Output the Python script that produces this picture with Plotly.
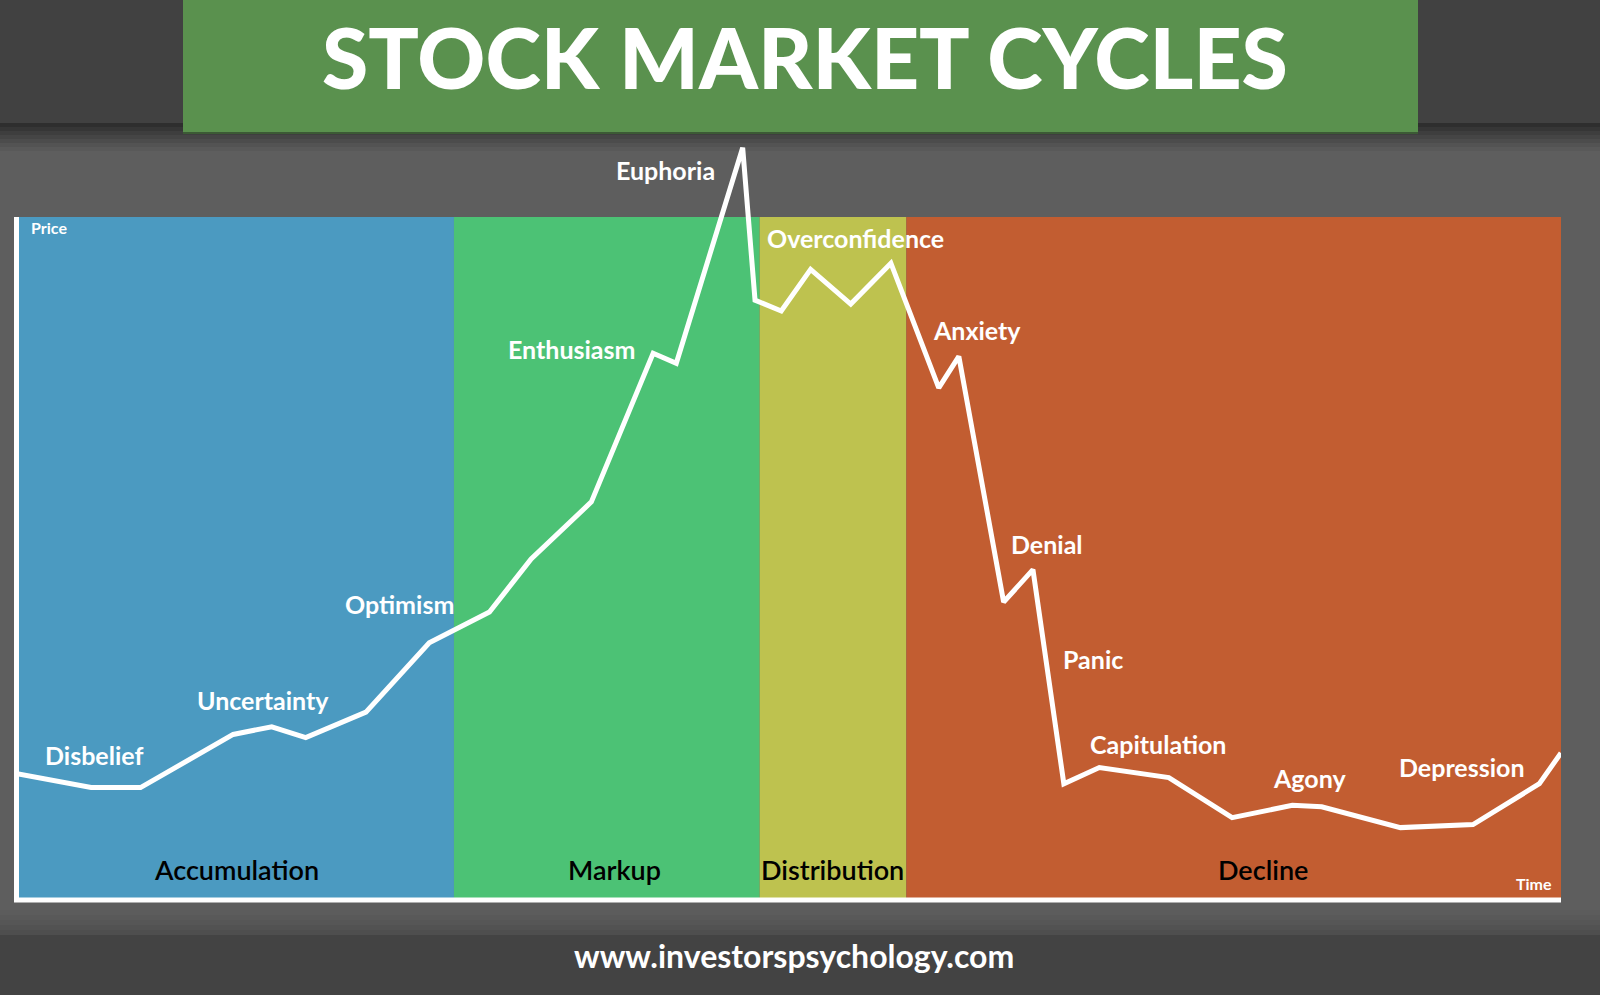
import plotly.graph_objects as go

W, H = 1600, 995

# price path through the cycle (time 0-100, price 0-100)
time = [0, 4.8, 8.0, 14.0, 16.5, 18.7, 22.6, 26.7, 30.6, 33.3, 37.2, 41.2, 42.7,
        47.0, 47.8, 49.5, 51.4, 54.0, 56.6, 59.7, 61.0, 63.9, 65.8, 67.8, 70.1,
        74.6, 78.7, 82.6, 84.5, 89.6, 94.3, 98.6, 100]
price = [16.4, 14.6, 14.6, 21.5, 22.5, 21.1, 24.4, 33.4, 37.4, 44.3, 51.7, 71.0, 69.7,
         97.7, 77.9, 76.5, 81.9, 77.4, 82.7, 66.5, 70.6, 38.7, 42.9, 15.1, 17.2,
         15.9, 10.7, 12.3, 12.1, 9.4, 9.8, 15.1, 19.1]

# market phases
phases = ["Accumulation", "Markup", "Distribution", "Decline"]
phase_start = [0, 28.3, 48.1, 57.6]
phase_end = [28.3, 48.1, 57.6, 100]
phase_colors = ["#4b9ac1", "#4cc275", "#bec24f", "#c25d31"]
phase_label_x = [14.2, 38.7, 52.8, 80.7]
phase_top = 88.7

# investor emotions
emotions = ["Disbelief", "Uncertainty", "Optimism", "Enthusiasm", "Euphoria",
            "Overconfidence", "Anxiety", "Denial", "Panic", "Capitulation",
            "Agony", "Depression"]
emotion_x = [5.0, 15.9, 24.8, 35.9, 42.0, 54.3, 62.2, 66.7, 69.7, 73.9, 83.7, 93.6]
emotion_y = [18.8, 26.0, 38.4, 71.6, 94.8, 86.0, 74.0, 46.2, 31.3, 20.3, 15.8, 17.3]

FONT = "Lato"


def px(x):
    return x / W


def py(y):
    return 1 - y / H


fig = go.Figure()

fig.add_trace(
    go.Scatter(
        x=time,
        y=price,
        mode="lines",
        line=dict(color="white", width=5),
        hoverinfo="skip",
        cliponaxis=False,
    )
)

shapes = []

# background bands: header, shadow, footer
shapes.append(dict(type="rect", xref="paper", yref="paper", x0=0, x1=1,
                   y0=py(123), y1=1, fillcolor="#414141", line_width=0, layer="below"))
shade = ["#2e2e2e", "#363636", "#3e3e3e", "#454545", "#4c4c4c", "#535353", "#595959"]
for i, c in enumerate(shade):
    shapes.append(dict(type="rect", xref="paper", yref="paper", x0=0, x1=1,
                       y0=py(123 + 4 * (i + 1)), y1=py(123 + 4 * i),
                       fillcolor=c, line_width=0, layer="below"))
foot = ["#5c5c5c", "#595959", "#565656", "#525252", "#4e4e4e"]
for i, c in enumerate(foot):
    shapes.append(dict(type="rect", xref="paper", yref="paper", x0=0, x1=1,
                       y0=py(910 + 5 * (i + 1)), y1=py(910 + 5 * i),
                       fillcolor=c, line_width=0, layer="below"))
shapes.append(dict(type="rect", xref="paper", yref="paper", x0=0, x1=1,
                   y0=0, y1=py(935), fillcolor="#434343", line_width=0, layer="below"))

# title banner
shapes.append(dict(type="rect", xref="paper", yref="paper", x0=px(183), x1=px(1418),
                   y0=py(134), y1=py(131), fillcolor="#3c5a35", line_width=0, layer="below"))
shapes.append(dict(type="rect", xref="paper", yref="paper", x0=px(183), x1=px(1418),
                   y0=py(132), y1=1, fillcolor="#5a914e", line_width=0, layer="below"))

# phase regions
for s, e, c in zip(phase_start, phase_end, phase_colors):
    shapes.append(dict(type="rect", xref="x", yref="y", x0=s, x1=e, y0=0, y1=phase_top,
                       fillcolor=c, line_width=0, layer="below"))

# axis lines
shapes.append(dict(type="line", xref="paper", yref="paper", x0=px(16.5), x1=px(16.5),
                   y0=py(902), y1=py(217), line=dict(color="white", width=5)))
shapes.append(dict(type="line", xref="paper", yref="paper", x0=px(14), x1=px(1561),
                   y0=py(900), y1=py(900), line=dict(color="white", width=5)))

annotations = []
annotations.append(dict(text="STOCK MARKET CYCLES", xref="paper", yref="paper",
                        x=px(805), y=py(57), xanchor="center", yanchor="middle",
                        showarrow=False,
                        font=dict(family=FONT, size=84, color="white", weight=900)))
annotations.append(dict(text="www.investorspsychology.com", xref="paper", yref="paper",
                        x=px(794), y=py(955), xanchor="center", yanchor="middle",
                        showarrow=False,
                        font=dict(family=FONT, size=32, color="white", weight=700)))
annotations.append(dict(text="Price", xref="paper", yref="paper", x=px(29), y=py(227),
                        xanchor="left", yanchor="middle", showarrow=False,
                        font=dict(family=FONT, size=16, color="white", weight=700)))
annotations.append(dict(text="Time", xref="paper", yref="paper", x=px(1554), y=py(883),
                        xanchor="right", yanchor="middle", showarrow=False,
                        font=dict(family=FONT, size=16, color="white", weight=700)))

for name, lx in zip(phases, phase_label_x):
    annotations.append(dict(text=name, xref="x", yref="y", x=lx, y=3.9,
                            xanchor="center", yanchor="middle", showarrow=False,
                            font=dict(family=FONT, size=27, color="black", weight=600)))

for name, ex, ey in zip(emotions, emotion_x, emotion_y):
    annotations.append(dict(text=name, xref="x", yref="y", x=ex, y=ey,
                            xanchor="center", yanchor="middle", showarrow=False,
                            font=dict(family=FONT, size=25, color="white", weight=700)))

fig.update_layout(
    width=W,
    height=H,
    autosize=False,
    margin=dict(l=0, r=0, t=0, b=0),
    paper_bgcolor="#5e5e5e",
    plot_bgcolor="rgba(0,0,0,0)",
    showlegend=False,
    xaxis=dict(domain=[px(17), px(1561)], range=[0, 100], visible=False, fixedrange=True),
    yaxis=dict(domain=[py(900), py(130)], range=[0, 100], visible=False, fixedrange=True),
    shapes=shapes,
    annotations=annotations,
)

fig.write_html(
    "out.html",
    config=dict(displayModeBar=False),
    post_script="document.body.style.margin='0';",
)
